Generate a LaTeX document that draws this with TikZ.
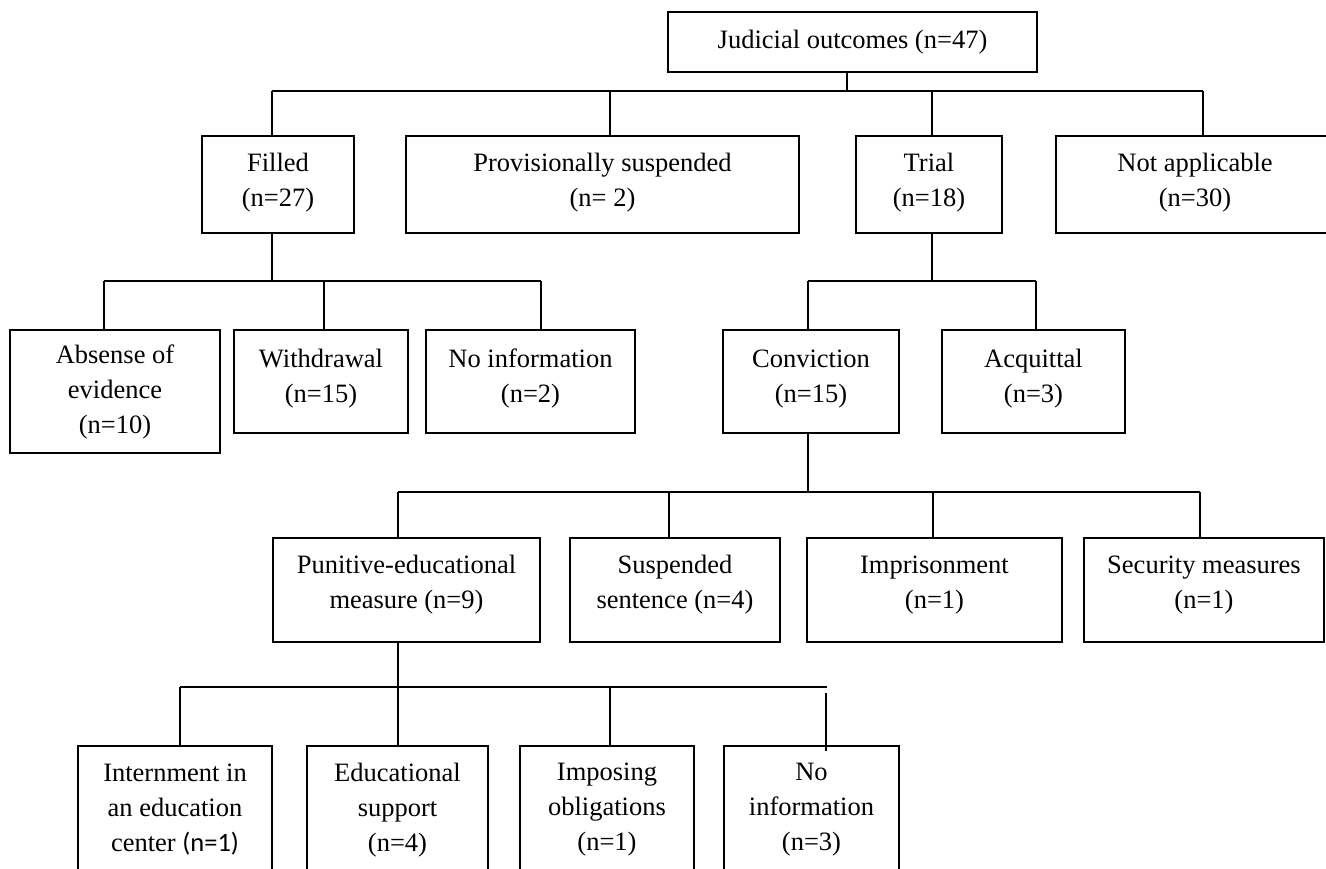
\documentclass[tikz,border=0pt]{standalone}
\usepackage{fontspec}
\setmainfont{Liberation Serif}
\newfontfamily\calib{Carlito}
\newcommand\lift[1]{\rule[-#1pt]{0pt}{0pt}}
\begin{document}
\begin{tikzpicture}[x=1pt,y=-1pt,
  box/.style={draw, line width=1.8pt, inner sep=0pt, align=center,
    font=\fontsize{26.5}{35}\selectfont},
  conn/.style={line width=1.8pt}]
\clip (0,0) rectangle (1326,869);
\fill[white] (0,0) rectangle (1326,869);

% root
\node[box, minimum width=369pt, minimum height=60pt] (root) at (852.5,42) {Judicial outcomes (n=47)};

% level 1
\node[box, minimum width=152pt, minimum height=97pt] (filled) at (278,184.5) {Filled\\(n=27)\lift{10}};
\node[box, minimum width=393pt, minimum height=97pt] (prov) at (602.5,184.5) {Provisionally suspended\\(n= 2)\lift{10}};
\node[box, minimum width=146pt, minimum height=97pt] (trial) at (929,184.5) {Trial\\(n=18)\lift{10}};
\node[box, minimum width=278pt, minimum height=97pt] (na) at (1195,184.5) {Not applicable\\(n=30)\lift{10}};

% level 2
\node[box, minimum width=210pt, minimum height=123pt] (abs) at (115,391.5) {Absense of\\evidence\\(n=10)};
\node[box, minimum width=174pt, minimum height=103pt] (withd) at (321,381.5) {Withdrawal\\(n=15)\lift{11}};
\node[box, minimum width=209pt, minimum height=103pt] (noinf) at (530.5,381.5) {No information\\(n=2)\lift{11}};
\node[box, minimum width=176pt, minimum height=103pt] (conv) at (811,381.5) {Conviction\\(n=15)\lift{11}};
\node[box, minimum width=183pt, minimum height=103pt] (acq) at (1033.5,381.5) {Acquittal\\(n=3)\lift{11}};

% level 3
\node[box, minimum width=267pt, minimum height=104pt] (pun) at (406.5,590) {Punitive-educational\\measure (n=9)\lift{16}};
\node[box, minimum width=210pt, minimum height=104pt] (susp) at (675,590) {Suspended\\sentence (n=4)\lift{16}};
\node[box, minimum width=255pt, minimum height=104pt] (impr) at (934.5,590) {Imprisonment\\(n=1)\lift{16}};
\node[box, minimum width=240pt, minimum height=104pt] (sec) at (1204,590) {Security measures\\(n=1)\lift{16}};

% level 4
\node[box, minimum width=194pt, minimum height=128pt] (intern) at (175,810) {Internment in\\an education\\center {\calib(n=1)}};
\node[box, minimum width=181pt, minimum height=128pt] (edu) at (397.5,810) {Educational\\support\\(n=4)};
\node[box, minimum width=174pt, minimum height=128pt] (impo) at (607,810) {Imposing\\obligations\\(n=1)};
\node[box, minimum width=175pt, minimum height=128pt] (noinf2) at (811.5,810) {No\\information\\(n=3)};

% bus coordinates
\coordinate (b1) at (847,91);
\coordinate (filledDrop) at (272,91);
\coordinate (provDrop) at (610,91);
\coordinate (trialDrop) at (932,91);
\coordinate (naDrop) at (1203,91);

\coordinate (b2) at (272,281);
\coordinate (absDrop) at (104,281);
\coordinate (withDrop) at (324,281);
\coordinate (noDrop) at (541,281);

\coordinate (b3) at (932,281);
\coordinate (convDrop) at (808,281);
\coordinate (acqDrop) at (1036,281);

\coordinate (b4) at (808,492);
\coordinate (punDrop) at (398,492);
\coordinate (suspDrop) at (669,492);
\coordinate (imprDrop) at (933,492);
\coordinate (secDrop) at (1200,492);

\coordinate (b5) at (398,687);
\coordinate (intDrop) at (180,687);
\coordinate (eduDrop) at (398,687);
\coordinate (impoDrop) at (610,687);
\coordinate (b5end) at (827,687);
\coordinate (gapTop) at (826,693);
\coordinate (gapBot) at (826,751);

% root connectors
\draw[conn] (b1 |- root.south) -- (b1);
\draw[conn] (filledDrop) -- (naDrop);
\draw[conn] (filledDrop) -- (filledDrop |- filled.north);
\draw[conn] (provDrop) -- (provDrop |- prov.north);
\draw[conn] (trialDrop) -- (trialDrop |- trial.north);
\draw[conn] (naDrop) -- (naDrop |- na.north);

% filled
\draw[conn] (b2 |- filled.south) -- (b2);
\draw[conn] (absDrop) -- (noDrop);
\draw[conn] (absDrop) -- (absDrop |- abs.north);
\draw[conn] (withDrop) -- (withDrop |- withd.north);
\draw[conn] (noDrop) -- (noDrop |- noinf.north);

% trial
\draw[conn] (b3 |- trial.south) -- (b3);
\draw[conn] (convDrop) -- (acqDrop);
\draw[conn] (convDrop) -- (convDrop |- conv.north);
\draw[conn] (acqDrop) -- (acqDrop |- acq.north);

% conviction
\draw[conn] (b4 |- conv.south) -- (b4);
\draw[conn] (punDrop) -- (secDrop);
\draw[conn] (punDrop) -- (punDrop |- pun.north);
\draw[conn] (suspDrop) -- (suspDrop |- susp.north);
\draw[conn] (imprDrop) -- (imprDrop |- impr.north);
\draw[conn] (secDrop) -- (secDrop |- sec.north);

% punitive
\draw[conn] (b5 |- pun.south) -- (b5);
\draw[conn] (intDrop) -- (b5end);
\draw[conn] (intDrop) -- (intDrop |- intern.north);
\draw[conn] (eduDrop) -- (eduDrop |- edu.north);
\draw[conn] (impoDrop) -- (impoDrop |- impo.north);
\draw[conn] (gapTop) -- (gapBot);
\end{tikzpicture}
\end{document}
